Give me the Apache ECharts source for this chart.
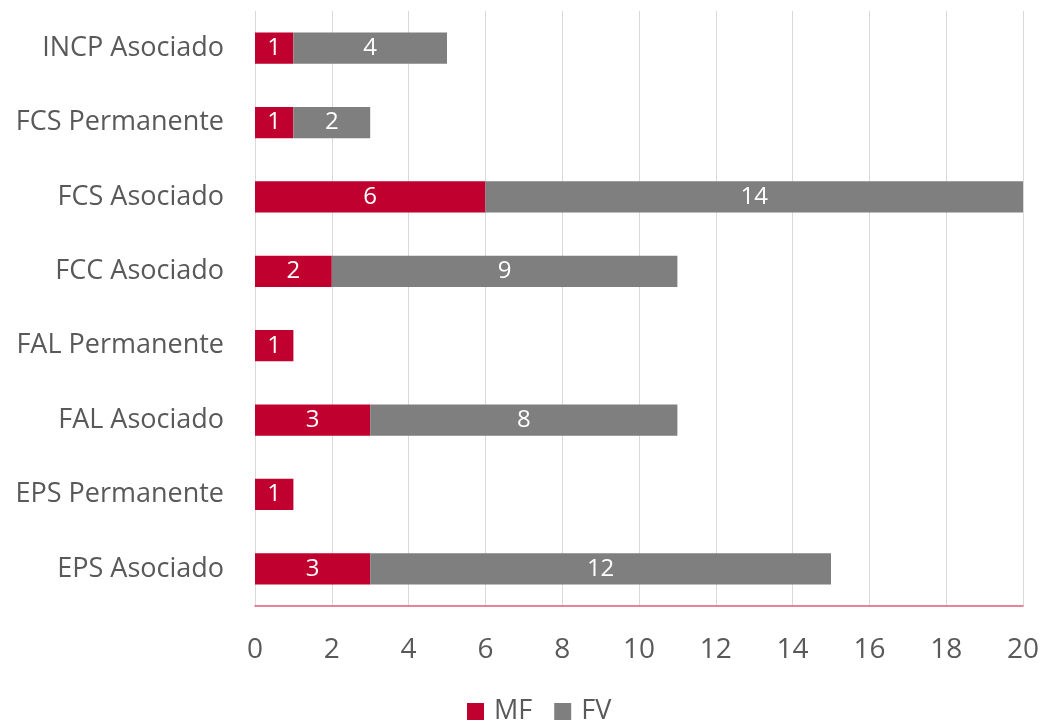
<!DOCTYPE html>
<html><head><meta charset="utf-8">
<script src="https://cdn.jsdelivr.net/npm/echarts@6/dist/echarts.min.js"></script>
<style>html,body{margin:0;padding:0;background:#fff}#c{width:1044px;height:721px}</style>
</head><body><div id="c"></div>
<script>
const categories = ['EPS Asociado','EPS Permanente','FAL Asociado','FAL Permanente','FCC Asociado','FCS Asociado','FCS Permanente','INCP Asociado'];
const mfValues = [3,1,3,1,2,6,1,1];
const fvValues = [12,null,8,null,9,14,2,4];
const xTicks = [0,2,4,6,8,10,12,14,16,18,20];

const font = '"Open Sans", sans-serif';
const chart = echarts.init(document.getElementById('c'));
chart.setOption({
  animation:false,
  textStyle:{fontFamily:font},
  grid:{left:255,right:21,top:11,bottom:115,containLabel:false},
  legend:{top:693,left:462,itemWidth:17,itemHeight:17,itemGap:22,icon:'rect',
    textStyle:{fontSize:27,color:'#595959',fontFamily:font,padding:[0,0,0,5]},
    data:['MF','FV']},
  xAxis:{type:'value',min:xTicks[0],max:xTicks[xTicks.length-1],interval:2,
    axisLine:{show:true,onZero:false,lineStyle:{color:'#e05a78',width:1.5}},axisTick:{show:false},
    splitLine:{lineStyle:{color:'#d9d9d9',width:1}},
    axisLabel:{fontSize:28,color:'#595959',margin:30,fontFamily:font}},
  yAxis:{type:'category',data:categories,
    axisLine:{show:false},axisTick:{show:false},
    axisLabel:{fontSize:27,color:'#595959',margin:31,fontFamily:font,padding:[4,0,0,0]}},
  series:[
    {name:'MF',type:'bar',stack:'a',data:mfValues,barCategoryGap:'58%',
     itemStyle:{color:'#c0002f'},
     label:{show:true,position:'inside',color:'#fff',fontSize:24,fontFamily:font}},
    {name:'FV',type:'bar',stack:'a',data:fvValues,
     itemStyle:{color:'#7f7f7f'},
     label:{show:true,position:'inside',color:'#fff',fontSize:24,fontFamily:font}}
  ]
});
</script></body></html>
